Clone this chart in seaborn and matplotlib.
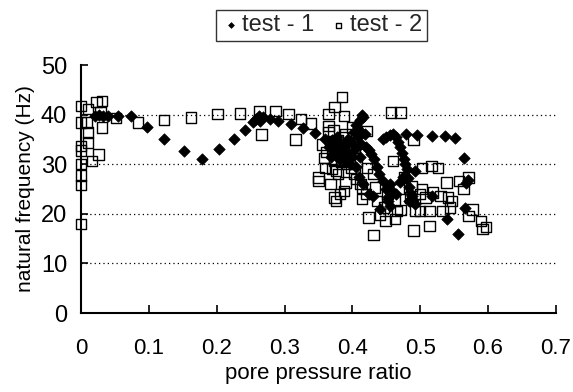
import matplotlib
matplotlib.use("Agg")
import matplotlib.pyplot as plt
import seaborn as sns
import pandas as pd

# ---- data ----
t1_x = [0.020, 0.027, 0.032, 0.040, 0.054, 0.074, 0.098, 0.123, 0.152, 0.178,
        0.204, 0.225, 0.242, 0.254, 0.258, 0.262, 0.268, 0.264, 0.278, 0.291,
        0.309, 0.327, 0.345,
        0.360, 0.365, 0.370, 0.372, 0.375, 0.378, 0.380, 0.383, 0.386, 0.388,
        0.390, 0.393, 0.395, 0.398, 0.400, 0.402, 0.404, 0.406, 0.408, 0.410,
        0.412, 0.414, 0.416, 0.413, 0.418, 0.411, 0.405, 0.396, 0.384, 0.368,
        0.420, 0.425, 0.428, 0.432, 0.436, 0.440, 0.445, 0.450, 0.452, 0.455,
        0.410, 0.415, 0.425, 0.430, 0.441, 0.452, 0.456, 0.460, 0.465, 0.470, 0.475,
        0.445, 0.450, 0.455, 0.460, 0.465, 0.468, 0.470, 0.473, 0.476, 0.478,
        0.480, 0.482, 0.484, 0.486, 0.487, 0.490, 0.493, 0.488, 0.483,
        0.479, 0.495, 0.517, 0.536, 0.551, 0.564, 0.568, 0.566, 0.539, 0.556,
        0.517, 0.492, 0.570]
t1_y = [39.8, 40.0, 39.7, 39.8, 39.7, 39.8, 37.5, 35.0, 32.6, 31.0,
        33.0, 35.1, 37.0, 38.5, 39.2, 39.8, 39.5, 38.7, 39.2, 38.7,
        38.2, 37.3, 36.3,
        35.0, 33.5, 34.8, 32.0, 33.2, 35.5, 31.0, 34.0, 32.5, 30.5,
        33.8, 35.0, 32.0, 34.5, 31.5, 36.5, 33.0, 38.0, 35.5, 37.0,
        39.0, 40.0, 39.5, 34.0, 36.0, 31.5, 29.5, 30.0, 32.8, 31.5,
        33.5, 32.8, 32.0, 31.0, 29.5, 28.0, 26.7, 25.0, 23.3, 21.5,
        27.5, 26.0, 24.0, 23.5, 20.9, 22.6, 26.0, 24.5, 24.0, 26.5, 27.5,
        35.0, 35.5, 35.8, 36.0, 35.5, 34.5, 33.5, 32.2, 31.0, 30.0,
        29.0, 27.3, 25.5, 24.0, 23.0, 22.7, 22.0, 23.5, 22.5,
        36.2, 35.9, 35.7, 35.6, 35.3, 31.2, 26.3, 21.1, 19.0, 16.0,
        23.6, 28.7, 26.8]

t2_x = [0.000, 0.000, 0.000, 0.000, 0.000, 0.000, 0.000, 0.000,
        0.010, 0.009, 0.010, 0.010, 0.016, 0.026, 0.023, 0.031, 0.029, 0.031, 0.052,
        0.084, 0.122, 0.162, 0.201, 0.234, 0.263, 0.266, 0.287, 0.306, 0.316,
        0.324, 0.339,
        0.350, 0.350, 0.355, 0.358, 0.360, 0.365, 0.365, 0.365, 0.368, 0.371,
        0.374, 0.374, 0.385, 0.368, 0.374, 0.376, 0.382, 0.388, 0.390, 0.388,
        0.390, 0.393, 0.396, 0.398, 0.376, 0.379, 0.380, 0.383, 0.378, 0.386,
        0.362, 0.370, 0.392, 0.395, 0.372, 0.384,
        0.400, 0.403, 0.406, 0.403, 0.406, 0.412, 0.414, 0.414, 0.420, 0.422,
        0.422, 0.424, 0.431, 0.431, 0.433, 0.436, 0.441, 0.447, 0.449, 0.452,
        0.457, 0.460, 0.463, 0.466, 0.463, 0.468, 0.471, 0.471, 0.476, 0.485,
        0.487, 0.490, 0.490, 0.492, 0.500, 0.503, 0.503, 0.508, 0.500, 0.514,
        0.514, 0.517, 0.519, 0.526, 0.530, 0.533, 0.539, 0.541, 0.544, 0.547,
        0.557, 0.564, 0.571, 0.571, 0.577, 0.590, 0.592, 0.597]
t2_y = [41.7, 38.4, 33.7, 32.8, 30.0, 27.7, 25.8, 17.9,
        41.1, 38.4, 36.4, 34.4, 30.7, 32.0, 42.6, 42.8, 40.4, 37.4, 39.3,
        38.4, 38.9, 39.4, 40.1, 40.2, 40.6, 36.0, 40.7, 40.1, 35.0,
        39.1, 38.2,
        27.3, 26.6, 34.0, 31.3, 29.3, 40.1, 37.7, 36.4, 34.4, 32.3,
        30.7, 41.5, 43.6, 26.0, 23.3, 22.6, 24.0, 24.6, 26.3, 39.7,
        36.0, 33.4, 31.0, 29.3, 28.7, 28.0, 33.0, 32.0, 34.8, 35.5,
        32.5, 29.0, 30.0, 34.0, 36.8, 30.5,
        37.4, 33.4, 30.7, 28.0, 27.0, 26.0, 25.3, 23.0, 24.0, 36.7,
        29.3, 19.3, 28.0, 15.7, 25.3, 22.6, 19.9, 21.3, 18.6, 24.0,
        40.4, 30.7, 22.6, 20.6, 18.9, 25.0, 40.4, 20.8, 27.3, 23.3,
        25.6, 35.0, 16.6, 20.6, 24.0, 29.3, 25.0, 23.3, 20.6, 20.6,
        17.6, 29.7, 24.3, 29.3, 23.6, 20.6, 26.3, 23.3, 21.3, 22.6,
        26.6, 25.0, 27.3, 19.6, 20.9, 18.6, 16.9, 17.4]

series_names = ["test - 1", "test - 2"]
x_ticks = [0, 0.1, 0.2, 0.3, 0.4, 0.5, 0.6, 0.7]
x_tick_labels = ["0", "0.1", "0.2", "0.3", "0.4", "0.5", "0.6", "0.7"]
y_ticks = [0, 10, 20, 30, 40, 50]

df1 = pd.DataFrame({"x": t1_x, "y": t1_y})
df2 = pd.DataFrame({"x": t2_x, "y": t2_y})

sns.set_style("white")
plt.rcParams["font.family"] = ["Liberation Sans", "DejaVu Sans"]

fig = plt.figure(figsize=(5.73, 3.92), dpi=100)
ax = fig.add_axes([0.1414, 0.2015, 0.8286, 0.6325])

sns.scatterplot(data=df2, x="x", y="y", ax=ax, marker="s", s=56,
                label=series_names[1], clip_on=False, zorder=3)
sq = ax.collections[-1]
sq.set_facecolor("none")
sq.set_edgecolor("black")
sq.set_linewidth(1.0)

sns.scatterplot(data=df1, x="x", y="y", ax=ax, marker="D", s=34,
                label=series_names[0], clip_on=False, zorder=4)
dm = ax.collections[-1]
dm.set_facecolor("black")
dm.set_edgecolor("black")
dm.set_linewidth(0.5)

ax.set_xlim(0, 0.7)
ax.set_ylim(0, 50)
ax.set_xticks(x_ticks)
ax.set_xticklabels(x_tick_labels)
ax.set_yticks(y_ticks)

ax.yaxis.grid(True, color="black", linestyle=(0, (1, 2.5)), linewidth=0.9)
ax.xaxis.grid(False)
ax.get_ygridlines()[-1].set_visible(False)
ax.get_ygridlines()[0].set_visible(False)

for side in ["top", "right"]:
    ax.spines[side].set_visible(False)
for side in ["left", "bottom"]:
    ax.spines[side].set_color("black")
    ax.spines[side].set_linewidth(1.5)

ax.tick_params(axis="x", direction="in", length=6, width=1.2, colors="black",
               labelsize=16, pad=18, bottom=True)
ax.tick_params(axis="y", direction="in", length=5, width=1.2, colors="black",
               labelsize=17, pad=10, left=True)

ax.set_xlabel("pore pressure ratio", fontsize=16, color="black", labelpad=3)
ax.set_ylabel("natural frequency (Hz)", fontsize=15, color="black", labelpad=4)

handles, labels = ax.get_legend_handles_labels()
order = [labels.index(n) for n in series_names]
leg = ax.legend([handles[i] for i in order], [labels[i] for i in order],
                loc="center", bbox_to_anchor=(0.507, 1.16), ncol=2,
                frameon=True, fancybox=False, edgecolor="black",
                fontsize=17, markerscale=0.5, handletextpad=0.1,
                columnspacing=0.6, handlelength=0.8, borderpad=0.2,
                borderaxespad=0)
leg.get_frame().set_linewidth(1.0)

fig.savefig("out.png", dpi=100, facecolor="white")
